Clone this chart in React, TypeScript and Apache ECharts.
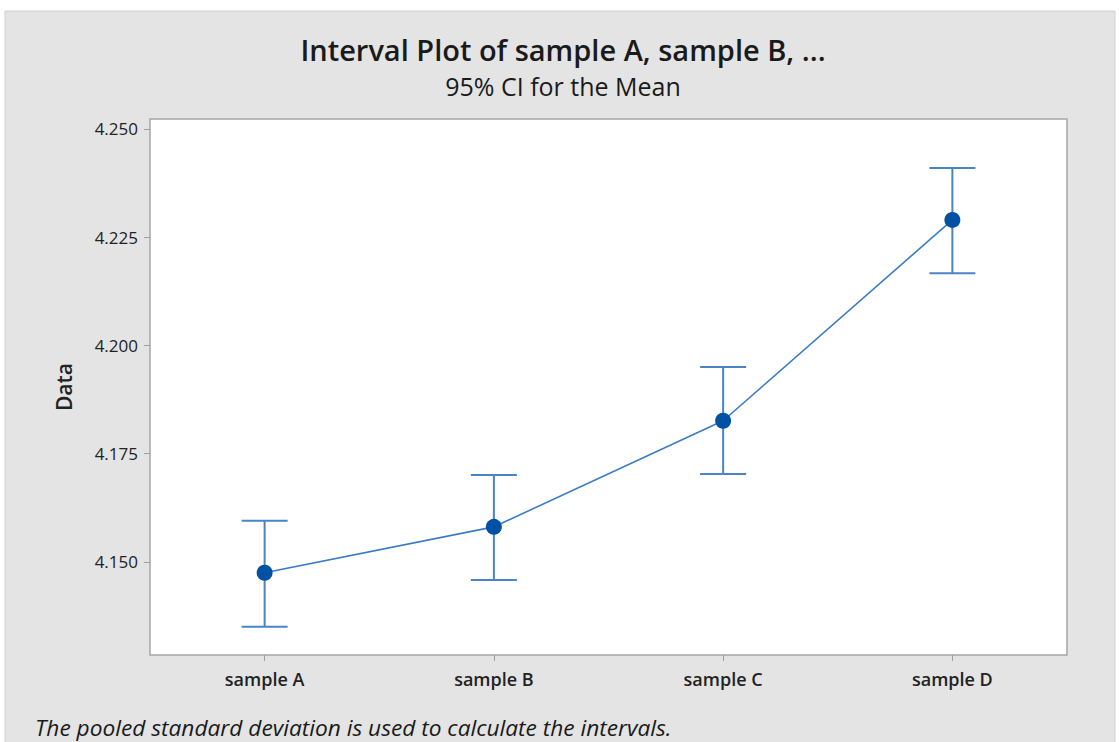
import React, { useEffect, useRef } from "react";
import * as echarts from "echarts";

const categories = ["sample A", "sample B", "sample C", "sample D"];
const means = [4.1475, 4.1581, 4.1826, 4.229];
const lowers = [4.135, 4.1458, 4.1703, 4.2167];
const uppers = [4.1595, 4.1701, 4.195, 4.241];
const yTicks = [4.15, 4.175, 4.2, 4.225, 4.25];

const FONT = "'Open Sans', 'Noto Sans', sans-serif";

export default function App() {
  const ref = useRef<HTMLDivElement>(null);
  useEffect(() => {
    if (!ref.current) return;
    const chart = echarts.init(ref.current, null, { renderer: "svg" });
    const barData = categories.map((c, i) => [i, lowers[i], uppers[i]]);
    chart.setOption({
      animation: false,
      backgroundColor: "#ffffff",
      graphic: [
        {
          type: "rect",
          z: -10,
          shape: { x: 5, y: 11, width: 1110, height: 740 },
          style: { fill: "#e4e4e4", stroke: "#d0d0d0", lineWidth: 1 },
        },
        {
          type: "text",
          x: 563,
          y: 49,
          style: {
            text: "Interval Plot of sample A, sample B, ...",
            font: `600 29px ${FONT}`,
            fill: "#1a1a1a",
            align: "center",
            verticalAlign: "middle",
          },
        },
        {
          type: "text",
          x: 563,
          y: 86,
          style: {
            text: "95% CI for the Mean",
            font: `25px ${FONT}`,
            fill: "#1a1a1a",
            align: "center",
            verticalAlign: "middle",
          },
        },
        {
          type: "text",
          x: 35,
          y: 727,
          style: {
            text: "The pooled standard deviation is used to calculate the intervals.",
            font: `italic 22.7px ${FONT}`,
            fill: "#1a1a1a",
            align: "left",
            verticalAlign: "middle",
          },
        },
      ],
      grid: {
        left: 150,
        top: 119,
        width: 917,
        height: 536,
        show: true,
        backgroundColor: "#ffffff",
        borderColor: "#a6a6a6",
        borderWidth: 1.5,
      },
      xAxis: {
        type: "category",
        data: categories,
        boundaryGap: true,
        axisLine: { show: false },
        axisTick: {
          show: true,
          alignWithLabel: true,
          length: 6,
          lineStyle: { color: "#a0a0a0" },
        },
        axisLabel: {
          margin: 15,
          fontSize: 18,
          fontWeight: 600,
          fontFamily: FONT,
          color: "#222",
        },
      },
      yAxis: {
        type: "value",
        min: 4.1285,
        max: 4.2523,
        name: "Data",
        nameLocation: "middle",
        nameGap: 76,
        nameTextStyle: {
          fontSize: 21,
          fontWeight: 600,
          fontFamily: FONT,
          color: "#222",
        },
        axisLine: { show: false },
        splitLine: { show: false },
        axisTick: {
          show: true,
          length: 6,
          customValues: yTicks,
          lineStyle: { color: "#a0a0a0" },
        },
        axisLabel: {
          customValues: yTicks,
          formatter: (v: number) => v.toFixed(3),
          fontSize: 17,
          fontWeight: 500,
          fontFamily: FONT,
          color: "#222",
          margin: 12,
        },
      },
      series: [
        {
          type: "custom",
          data: barData,
          z: 2,
          renderItem: (params: any, api: any) => {
            const x = api.value(0);
            const lo = api.coord([x, api.value(1)]);
            const hi = api.coord([x, api.value(2)]);
            const half = 23;
            const style = { stroke: "#4a84c6", lineWidth: 2 };
            return {
              type: "group",
              children: [
                { type: "line", shape: { x1: lo[0], y1: lo[1], x2: hi[0], y2: hi[1] }, style },
                { type: "line", shape: { x1: lo[0] - half, y1: lo[1], x2: lo[0] + half, y2: lo[1] }, style },
                { type: "line", shape: { x1: hi[0] - half, y1: hi[1], x2: hi[0] + half, y2: hi[1] }, style },
              ],
            };
          },
        },
        {
          type: "line",
          data: means,
          z: 3,
          symbol: "circle",
          symbolSize: 16,
          lineStyle: { color: "#3a7cc4", width: 1.6 },
          itemStyle: { color: "#0050a4" },
        },
      ],
    });
    return () => chart.dispose();
  }, []);
  return (
    <div
      ref={ref}
      style={{ position: "fixed", left: 0, top: 0, width: 1119, height: 742 }}
    />
  );
}
